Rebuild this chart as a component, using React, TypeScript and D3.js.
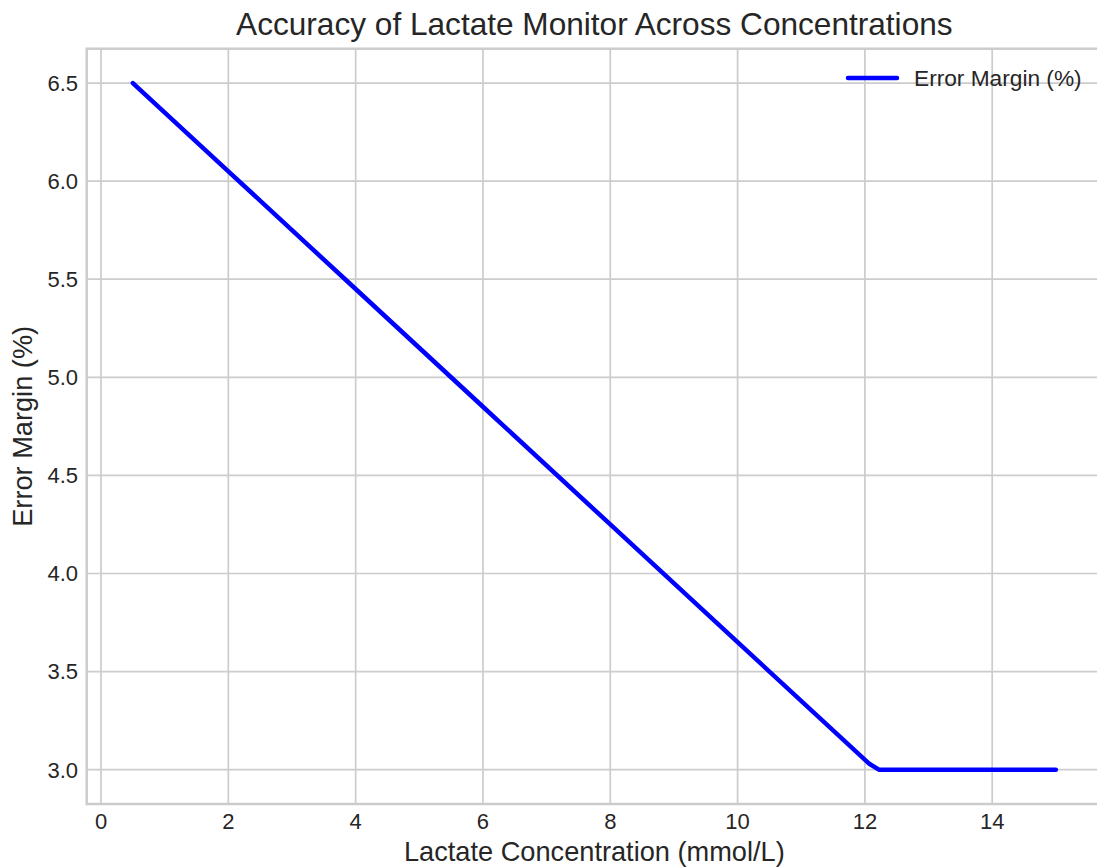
import React, { useEffect, useRef } from 'react';
import * as d3 from 'd3';

// values
const concentration = [0.5, 2, 4, 6, 8, 10, 12.07, 12.22, 15];
const errorMargin = [6.5, 6.05, 5.45, 4.85, 4.25, 3.65, 3.03, 3.0, 3.0];
const xTicks = [0, 2, 4, 6, 8, 10, 12, 14];
const yTicks = [3.0, 3.5, 4.0, 4.5, 5.0, 5.5, 6.0, 6.5];

const seriesName = 'Error Margin (%)';
const chartTitle = 'Accuracy of Lactate Monitor Across Concentrations';
const xLabel = 'Lactate Concentration (mmol/L)';
const yLabel = 'Error Margin (%)';

const App: React.FC = () => {
    const svgRef = useRef<SVGSVGElement>(null);
    const width = 1097;
    const height = 868;

    useEffect(() => {
        if (!svgRef.current) return;
        document.body.style.margin = '0';

        const svg = d3.select(svgRef.current);
        svg.selectAll('*').remove();

        const font = '"Liberation Sans", Arial, sans-serif';
        const textColor = '#262626';
        const gridColor = '#cccccc';

        const plot = { left: 86.7, right: 1102, top: 48.7, bottom: 804 };

        // 5% padding like matplotlib
        const x = d3.scaleLinear().domain([-0.225, 15.725]).range([plot.left, plot.right]);
        const y = d3.scaleLinear().domain([2.825, 6.675]).range([plot.bottom, plot.top]);

        svg.append('rect')
            .attr('width', width)
            .attr('height', height)
            .attr('fill', 'white');

        // Grid lines
        const grid = svg.append('g');
        grid.selectAll('.vgrid')
            .data(xTicks)
            .enter()
            .append('line')
            .attr('x1', d => x(d))
            .attr('x2', d => x(d))
            .attr('y1', plot.top)
            .attr('y2', plot.bottom)
            .attr('stroke', gridColor)
            .attr('stroke-width', 1.7);
        grid.selectAll('.hgrid')
            .data(yTicks)
            .enter()
            .append('line')
            .attr('x1', plot.left)
            .attr('x2', plot.right)
            .attr('y1', d => y(d))
            .attr('y2', d => y(d))
            .attr('stroke', gridColor)
            .attr('stroke-width', 1.7);

        // Spines
        svg.append('rect')
            .attr('x', plot.left)
            .attr('y', plot.top)
            .attr('width', plot.right - plot.left)
            .attr('height', plot.bottom - plot.top)
            .attr('fill', 'none')
            .attr('stroke', gridColor)
            .attr('stroke-width', 2.5);

        // Tick labels
        svg.selectAll('.xtick')
            .data(xTicks)
            .enter()
            .append('text')
            .attr('x', d => x(d))
            .attr('y', 829)
            .attr('text-anchor', 'middle')
            .style('font-family', font)
            .style('font-size', '22px')
            .attr('fill', textColor)
            .text(d => d.toString());

        svg.selectAll('.ytick')
            .data(yTicks)
            .enter()
            .append('text')
            .attr('x', 78)
            .attr('y', d => y(d))
            .attr('dy', '0.36em')
            .attr('text-anchor', 'end')
            .style('font-family', font)
            .style('font-size', '22px')
            .attr('fill', textColor)
            .text(d => d.toFixed(1));

        // Line
        const points: [number, number][] = concentration.map((c, i) => [c, errorMargin[i]]);
        const line = d3.line<[number, number]>()
            .x(d => x(d[0]))
            .y(d => y(d[1]));

        svg.append('path')
            .datum(points)
            .attr('d', line)
            .attr('fill', 'none')
            .attr('stroke', '#0000ff')
            .attr('stroke-width', 4.5)
            .attr('stroke-linejoin', 'round')
            .attr('stroke-linecap', 'round');

        // Legend
        svg.append('line')
            .attr('x1', 848)
            .attr('x2', 897)
            .attr('y1', 78)
            .attr('y2', 78)
            .attr('stroke', '#0000ff')
            .attr('stroke-width', 4.5)
            .attr('stroke-linecap', 'round');
        svg.append('text')
            .attr('x', 914)
            .attr('y', 78)
            .attr('dy', '0.36em')
            .style('font-family', font)
            .style('font-size', '22.7px')
            .attr('fill', textColor)
            .text(seriesName);

        // Title and axis labels
        svg.append('text')
            .attr('x', (plot.left + plot.right) / 2)
            .attr('y', 35)
            .attr('text-anchor', 'middle')
            .style('font-family', font)
            .style('font-size', '31.6px')
            .attr('fill', textColor)
            .text(chartTitle);

        svg.append('text')
            .attr('x', (plot.left + plot.right) / 2)
            .attr('y', 861)
            .attr('text-anchor', 'middle')
            .style('font-family', font)
            .style('font-size', '27.2px')
            .attr('fill', textColor)
            .text(xLabel);

        svg.append('text')
            .attr('transform', `translate(32,${(plot.top + plot.bottom) / 2}) rotate(-90)`)
            .attr('text-anchor', 'middle')
            .style('font-family', font)
            .style('font-size', '27.2px')
            .attr('fill', textColor)
            .text(yLabel);
    }, []);

    return (
        <svg
            ref={svgRef}
            width={width}
            height={height}
            style={{ display: 'block', position: 'absolute', left: 0, top: 0 }}
        />
    );
};

export default App;
